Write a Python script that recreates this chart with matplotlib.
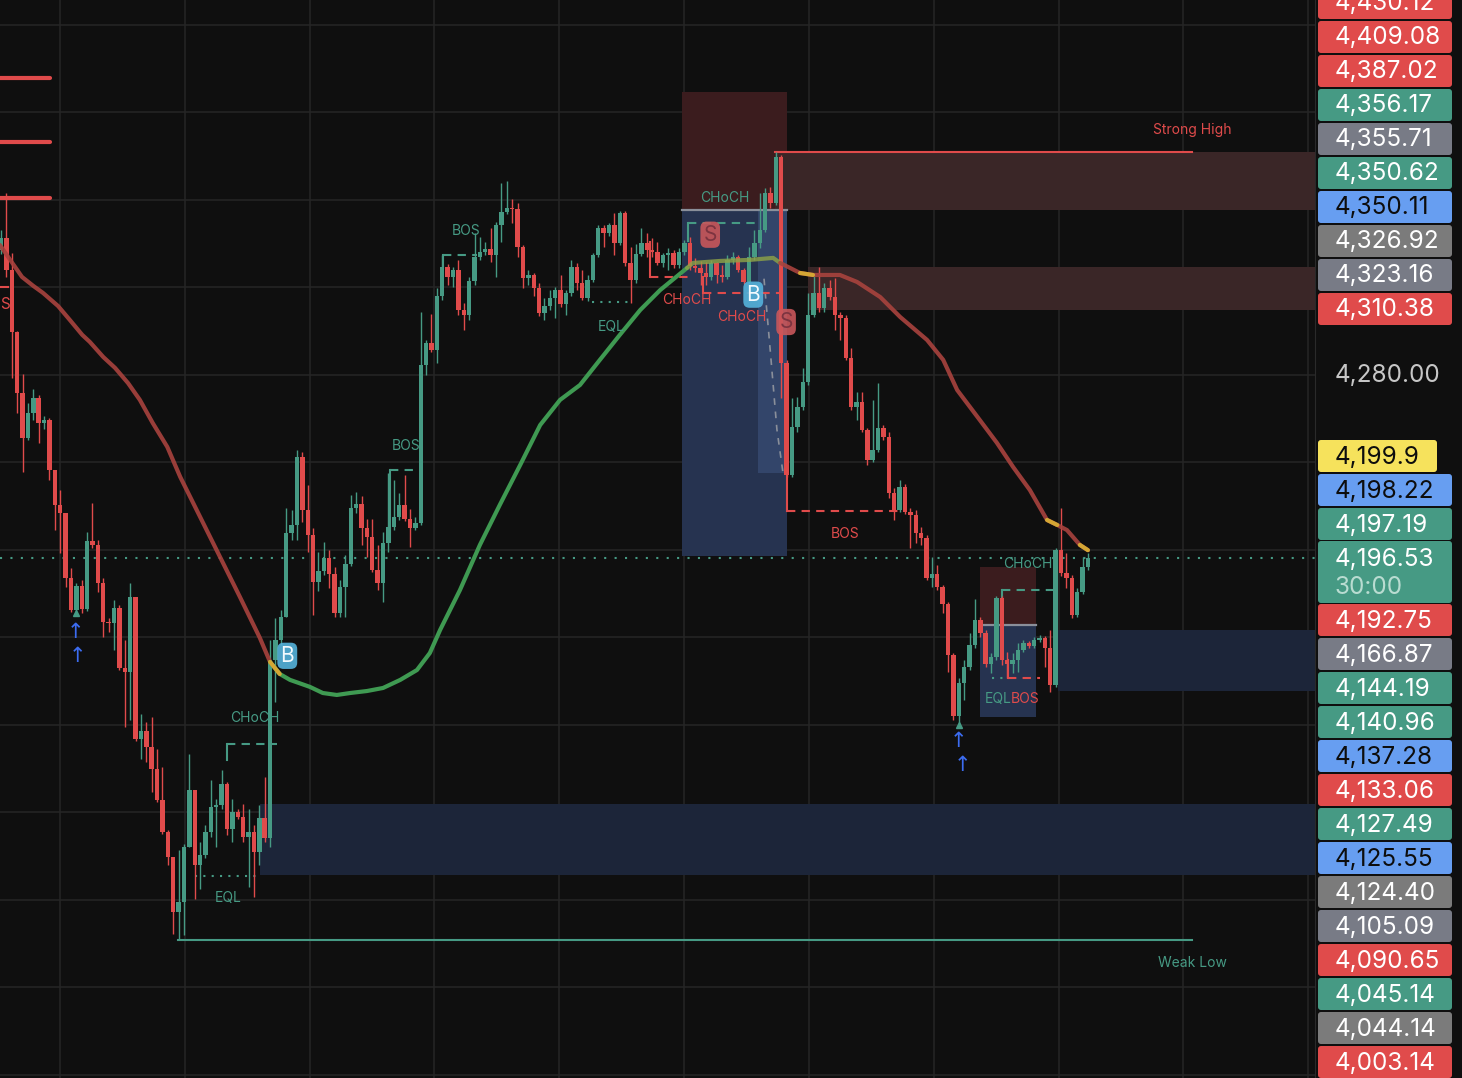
import numpy as np
import matplotlib.pyplot as plt
from matplotlib.patches import Rectangle, FancyBboxPatch

plt.rcParams['font.family'] = ['Inter', 'DejaVu Sans']

BG = '#0f0f0f'
GRID = '#262626'
UP = '#469a84'
DN = '#e04b4b'

# 30m candles, each bar opens at the previous close
first_open = 4337.1
close = [4342.6, 4328.0, 4299.6, 4271.8, 4251.2, 4262.6, 4269.5, 4258.0, 4259.4, 4236.6,
         4220.6, 4216.9, 4187.2, 4172.6, 4183.5, 4173.0, 4204.1, 4202.3, 4184.9, 4167.1,
         4166.6, 4173.5, 4146.1, 4144.2, 4178.5, 4113.6, 4117.3, 4110.0, 4100.0, 4085.8,
         4071.1, 4059.7, 4034.6, 4039.2, 4064.3, 4090.4, 4056.1, 4060.6, 4071.1, 4082.6,
         4083.5, 4093.1, 4072.5, 4080.3, 4078.0, 4068.9, 4071.1, 4062.0, 4077.6, 4068.4,
         4149.7, 4158.9, 4169.4, 4207.8, 4211.4, 4242.5, 4218.3, 4206.9, 4185.4, 4190.4,
         4196.3, 4189.0, 4171.2, 4183.1, 4193.6, 4219.2, 4221.0, 4210.1, 4205.9, 4190.9,
         4184.9, 4203.2, 4210.5, 4215.1, 4220.6, 4214.2, 4210.1, 4212.3, 4284.6, 4294.6,
         4291.4, 4316.1, 4329.4, 4324.8, 4328.0, 4309.7, 4307.4, 4323.0, 4333.9, 4336.2,
         4337.6, 4334.8, 4348.6, 4354.5, 4356.3, 4355.9, 4338.5, 4324.3, 4325.7, 4319.8,
         4308.4, 4311.5, 4315.2, 4318.8, 4312.4, 4317.5, 4329.4, 4322.0, 4315.2, 4323.4,
         4334.8, 4347.2, 4344.9, 4348.6, 4340.3, 4354.0, 4331.2, 4323.4, 4335.3, 4340.3,
         4337.1, 4336.2, 4331.2, 4334.8, 4335.8, 4330.3, 4336.2, 4340.3, 4329.8, 4328.9,
         4326.6, 4324.8, 4331.2, 4325.7, 4324.8, 4332.6, 4333.9, 4328.0, 4322.5, 4333.9,
         4340.3, 4346.3, 4363.2, 4358.6, 4379.7, 4285.5, 4234.3, 4256.2, 4265.4, 4276.8,
         4307.4, 4317.5, 4310.6, 4319.8, 4315.6, 4307.4, 4306.0, 4287.8, 4265.4, 4267.7,
         4254.8, 4241.1, 4245.7, 4255.8, 4251.7, 4226.0, 4218.3, 4228.8, 4217.4, 4216.0,
         4207.8, 4205.5, 4187.2, 4189.0, 4183.1, 4175.3, 4152.0, 4124.1, 4139.2, 4146.5,
         4156.6, 4168.0, 4162.1, 4147.9, 4151.1, 4178.1, 4149.7, 4147.9, 4149.7, 4154.3,
         4157.5, 4156.1, 4158.9, 4159.8, 4155.2, 4138.3, 4200.0, 4189.5, 4187.2, 4170.3,
         4180.8, 4192.2, 4196.5]
high = [4346.3, 4363.2, 4335.8, 4300.1, 4280.4, 4267.2, 4273.6, 4270.9, 4261.2, 4260.3,
        4236.6, 4227.4, 4216.9, 4191.8, 4184.9, 4186.3, 4208.2, 4221.5, 4204.6, 4187.2,
        4168.9, 4177.1, 4174.9, 4158.9, 4184.9, 4178.5, 4125.1, 4121.4, 4123.7, 4109.1,
        4100.8, 4072.1, 4059.7, 4062.9, 4065.7, 4106.8, 4090.4, 4066.6, 4074.3, 4094.9,
        4086.3, 4099.5, 4094.0, 4086.3, 4081.7, 4084.0, 4081.7, 4074.3, 4083.5, 4096.3,
        4158.9, 4168.9, 4172.6, 4219.2, 4218.3, 4245.7, 4244.8, 4229.7, 4210.1, 4199.1,
        4203.7, 4200.0, 4192.2, 4186.3, 4197.7, 4225.1, 4226.5, 4224.7, 4214.2, 4214.2,
        4202.3, 4208.2, 4235.2, 4232.0, 4226.0, 4234.3, 4218.7, 4215.1, 4308.8, 4296.0,
        4307.9, 4319.8, 4334.9, 4330.8, 4329.4, 4332.6, 4312.9, 4324.8, 4344.9, 4343.1,
        4340.8, 4347.2, 4350.0, 4367.8, 4368.7, 4360.4, 4358.6, 4339.4, 4328.0, 4326.6,
        4322.0, 4315.2, 4318.8, 4320.2, 4325.7, 4318.8, 4332.6, 4331.2, 4328.0, 4325.7,
        4335.8, 4348.6, 4348.6, 4349.5, 4354.0, 4355.0, 4355.0, 4338.5, 4339.9, 4347.2,
        4344.9, 4342.6, 4340.8, 4335.8, 4338.0, 4337.1, 4338.0, 4341.7, 4343.1, 4333.5,
        4332.1, 4331.6, 4332.6, 4331.6, 4330.3, 4334.8, 4336.2, 4334.8, 4328.9, 4338.5,
        4346.3, 4363.2, 4365.5, 4365.9, 4382.0, 4380.6, 4286.9, 4269.5, 4269.9, 4283.2,
        4317.5, 4326.6, 4329.4, 4322.0, 4323.4, 4324.3, 4308.8, 4307.4, 4292.3, 4272.2,
        4272.2, 4255.8, 4268.6, 4276.3, 4257.1, 4253.9, 4228.3, 4232.0, 4230.2, 4219.2,
        4218.3, 4210.5, 4206.9, 4196.8, 4193.1, 4184.0, 4176.2, 4152.9, 4141.5, 4149.7,
        4162.1, 4177.6, 4169.4, 4163.4, 4152.9, 4179.0, 4179.0, 4153.4, 4152.9, 4157.5,
        4158.9, 4158.4, 4160.2, 4161.1, 4160.7, 4163.4, 4200.9, 4219.2, 4198.6, 4188.6,
        4182.6, 4196.8, 4198.6]
low = [4335.3, 4324.8, 4278.6, 4262.6, 4235.7, 4250.3, 4259.4, 4248.9, 4255.3, 4232.0,
       4209.1, 4198.6, 4183.1, 4171.7, 4171.7, 4171.2, 4172.1, 4200.9, 4180.8, 4160.2,
       4162.5, 4154.3, 4145.1, 4119.1, 4122.3, 4112.7, 4104.5, 4103.2, 4089.4, 4084.9,
       4070.2, 4056.1, 4024.5, 4021.7, 4024.1, 4064.3, 4040.5, 4045.1, 4059.3, 4068.9,
       4064.3, 4081.7, 4069.8, 4066.6, 4077.1, 4066.6, 4046.0, 4041.4, 4056.1, 4066.6,
       4064.3, 4130.5, 4156.6, 4169.4, 4204.6, 4204.6, 4212.8, 4199.1, 4170.3, 4181.3,
       4188.6, 4182.6, 4169.4, 4169.4, 4169.4, 4192.7, 4216.9, 4202.3, 4196.8, 4190.0,
       4181.7, 4176.2, 4199.1, 4209.1, 4213.7, 4213.3, 4201.4, 4209.1, 4211.4, 4280.0,
       4290.5, 4285.5, 4314.3, 4321.1, 4320.2, 4307.4, 4300.6, 4305.1, 4321.1, 4332.6,
       4334.8, 4331.6, 4324.8, 4340.8, 4353.6, 4349.5, 4333.9, 4319.8, 4321.1, 4316.1,
       4307.0, 4305.1, 4309.7, 4306.0, 4311.1, 4307.4, 4316.1, 4318.8, 4314.3, 4313.8,
       4322.5, 4333.9, 4338.5, 4343.5, 4334.8, 4339.4, 4329.8, 4312.9, 4322.0, 4334.4,
       4333.9, 4333.9, 4330.3, 4329.4, 4328.0, 4328.9, 4328.9, 4334.8, 4328.0, 4327.1,
       4321.1, 4321.1, 4323.4, 4322.0, 4322.5, 4323.9, 4330.7, 4327.1, 4321.6, 4321.6,
       4332.6, 4338.0, 4345.4, 4356.3, 4357.7, 4269.5, 4233.4, 4233.4, 4253.9, 4264.0,
       4275.4, 4306.5, 4308.8, 4308.8, 4314.3, 4300.6, 4296.0, 4286.9, 4264.0, 4259.4,
       4253.9, 4238.9, 4240.2, 4244.8, 4250.3, 4223.8, 4213.7, 4217.4, 4216.5, 4200.9,
       4203.2, 4202.3, 4186.3, 4183.1, 4181.7, 4171.2, 4144.2, 4122.3, 4120.5, 4131.4,
       4145.1, 4155.2, 4160.2, 4146.5, 4143.8, 4149.7, 4147.4, 4141.5, 4143.8, 4144.2,
       4153.4, 4155.2, 4155.2, 4158.0, 4146.5, 4135.1, 4137.4, 4188.1, 4182.6, 4168.9,
       4169.4, 4179.9, 4190.9]
opens = [first_open] + close[:-1]
last_price = 4196.53

# moving average, sampled along the curve (bar index, price), split by colour
ema_bear1_x = [-0.2, 1.7, 3.9, 6.0, 7.8, 10.6, 12.8, 15.1, 16.5, 19.0, 21.2, 23.6, 25.8,
               28.2, 30.9, 33.3, 37.0, 40.7, 44.4, 48.1, 50.0]
ema_bear1_y = [4339.4, 4332.6, 4324.8, 4320.7, 4317.5, 4311.5, 4305.1, 4298.3, 4295.1,
               4288.2, 4283.2, 4276.3, 4268.6, 4258.0, 4247.1, 4233.4, 4215.1, 4196.8,
               4178.5, 4159.8, 4148.8]
ema_bull_x = [50.0, 51.8, 53.7, 57.4, 59.8, 62.4, 64.9, 68.0, 71.0, 74.2, 77.3, 79.7, 81.6,
              85.3, 89.0, 92.7, 96.5, 100.2, 103.9, 107.6, 111.3, 115.0, 118.8, 122.5, 127.5]
ema_bull_y = [4148.8, 4143.3, 4140.6, 4137.4, 4134.6, 4133.7, 4134.6, 4135.5, 4136.9, 4140.6,
              4145.1, 4152.9, 4163.4, 4181.7, 4202.3, 4220.6, 4238.9, 4257.1, 4268.6, 4275.4,
              4286.9, 4298.3, 4309.7, 4318.8, 4328.9]
ema_flat_x = [127.5, 128.6, 133.6, 139.2, 143.5, 144.8]
ema_flat_y = [4328.9, 4331.2, 4332.1, 4332.6, 4333.5, 4331.2]
ema_bear2_x = [144.8, 148.5, 150.9, 155.9, 159.1, 163.4, 167.1, 172.1, 175.1, 177.7, 181.9,
               185.1, 188.1, 191.2, 194.4, 196.3, 198.1, 200.5, 202.0]
ema_bear2_y = [4331.2, 4326.6, 4325.7, 4325.7, 4322.5, 4315.6, 4306.5, 4296.0, 4286.9, 4273.1,
               4259.4, 4248.9, 4237.9, 4227.4, 4213.7, 4211.4, 4209.1, 4202.3, 4199.9]
ema_touch = [(50.0, 4148.8, 51.8, 4143.3), (148.5, 4326.6, 150.9, 4325.7),
             (194.4, 4213.7, 196.3, 4211.4), (200.5, 4202.3, 202.0, 4199.9)]

# zones: x0, x1, low, high, colour
zones = [
    (126.6, 146.1, 4355.4, 4409.4, '#3b1c1e'),
    (126.6, 146.1, 4197.3, 4355.4, '#263350'),
    (140.7, 146.1, 4235.2, 4355.4, '#33456a'),
    (143.8, 244.5, 4355.4, 4382.0, '#3a2627'),
    (150.0, 244.5, 4309.7, 4329.4, '#3a2627'),
    (48.1, 244.5, 4051.4, 4083.9, '#1c2539'),
    (196.4, 244.5, 4135.5, 4163.4, '#1c2539'),
    (181.9, 192.3, 4165.7, 4192.2, '#3b1c1e'),
    (181.9, 192.3, 4123.6, 4165.7, '#263350'),
]
zone_edges = [(126.6, 146.1, 4355.4), (181.9, 192.3, 4165.7)]

strong_high = 4382.0
weak_low = 4021.7

# structure breaks: x0, x1, level, colour, style, label, label_x, label_y
structure = [
    (82.1, 88.5, 4334.8, UP, 'dash', 'BOS', 86.4, 4345.8),
    (72.3, 78.1, 4236.6, UP, 'dash', 'BOS', 75.3, 4247.6),
    (42.0, 51.3, 4111.3, UP, 'dash', 'CHoCH', 47.2, 4123.0),
    (36.1, 48.1, 4051.0, UP, 'dot', 'EQL', 42.2, 4040.9),
    (109.8, 117.5, 4313.4, UP, 'dot', 'EQL', 113.4, 4301.9),
    (127.7, 141.1, 4349.5, UP, 'dash', 'CHoCH', 134.5, 4360.9),
    (120.6, 128.6, 4324.8, DN, 'dash', 'CHoCH', 127.5, 4314.3),
    (130.5, 144.8, 4317.5, DN, 'dash', 'CHoCH', 137.7, 4306.5),
    (146.1, 167.1, 4217.8, DN, 'dash', 'BOS', 156.8, 4207.3),
    (186.0, 195.9, 4181.7, UP, 'dash', 'CHoCH', 190.9, 4193.6),
    (184.2, 187.1, 4141.5, UP, 'dot', 'EQL', 185.4, 4131.9),
    (187.1, 193.1, 4141.5, DN, 'dash', 'BOS', 190.3, 4131.9),
]
ticks_down = [(82.1, 4334.8, 4329.0), (72.3, 4236.6, 4205.0), (42.0, 4111.3, 4104.0),
              (127.7, 4349.5, 4341.0), (120.6, 4324.8, 4340.8), (130.5, 4317.5, 4324.8),
              (146.1, 4217.8, 4234.3), (186.0, 4181.7, 4177.0), (187.1, 4141.5, 4149.7)]
red_ticks = (120.6, 130.5, 146.1, 187.1)

# signal tags: x, price, letter, kind
tags = [(131.8, 4344.1, 'S', 'sell'), (139.8, 4316.7, 'B', 'buy'),
        (145.9, 4304.2, 'S', 'sell'), (53.2, 4151.6, 'B', 'buy')]
arrows = [(13.8, 4162.5), (14.3, 4151.5), (178.0, 4112.8), (178.6, 4101.8)]
swing_dots = [(13.9, 4171.1), (178.0, 4120.0)]
old_levels = [4415.8, 4386.5, 4360.9]

# price scale tags
scale_top = ['4,430.12', '4,409.08', '4,387.02', '4,356.17', '4,355.71', '4,350.62',
             '4,350.11', '4,326.92', '4,323.16', '4,310.38']
scale_top_col = ['red', 'red', 'red', 'green', 'slate', 'green', 'blue', 'gray', 'slate', 'red']
scale_bot = ['4,192.75', '4,166.87', '4,144.19', '4,140.96', '4,137.28', '4,133.06',
             '4,127.49', '4,125.55', '4,124.40', '4,105.09', '4,090.65', '4,045.14',
             '4,044.14', '4,003.14']
scale_bot_col = ['red', 'slate', 'green', 'green', 'blue', 'red', 'green', 'blue', 'gray',
                 'slate', 'red', 'green', 'gray', 'red']
scale_mid = [('4,199.9', 'yellow'), ('4,198.22', 'blue'), ('4,197.19', 'green')]
palette = {'red': '#e04b4b', 'green': '#469a84', 'slate': '#787b86', 'gray': '#7b7b7b',
           'blue': '#679ef1', 'yellow': '#f6e25c'}
dark_text = {'blue', 'yellow'}

fig = plt.figure(figsize=(14.62, 10.78), dpi=100, facecolor=BG)
ax = fig.add_axes([0, 0, 1315 / 1462, 1])
ax.set_facecolor(BG)
ax.set_xlim(-0.19, 244.2)
ax.set_ylim(3958.6, 4451.4)
ax.set_yticks(np.arange(3960, 4441, 40))
ax.set_xticks(np.arange(10.96, 244, 23.2))
ax.grid(color=GRID, lw=1.1)
ax.set_axisbelow(True)
ax.tick_params(length=0, labelleft=False, labelbottom=False)
for s in ax.spines.values():
    s.set_visible(False)

for x0, x1, lo, hi, c in zones:
    ax.add_patch(Rectangle((x0, lo), x1 - x0, hi - lo, color=c, lw=0, zorder=1))
for x0, x1, y in zone_edges:
    ax.plot([x0, x1], [y, y], color='#8a8f9a', lw=1.6, zorder=1.5)

# dashed guide inside the sell zone
ax.plot([141.8, 143.0, 144.2, 145.4], [4324.0, 4290.0, 4255.0, 4234.0],
        color='#8a8f9a', lw=1.2, ls=(0, (4, 4)), zorder=1.6)

ax.plot([143.8, 221.3], [strong_high] * 2, color=DN, lw=1.5, zorder=2)
ax.text(221.3, strong_high + 10, 'Strong High', color=DN, fontsize=10, ha='center', va='center')
ax.plot([32.9, 221.3], [weak_low] * 2, color=UP, lw=1.5, zorder=2)
ax.text(221.5, weak_low - 10.5, 'Weak Low', color=UP, fontsize=10, ha='center', va='center')
ax.axhline(last_price, color=UP, lw=1.5, ls=(0, (1, 4)), zorder=2)

for y in old_levels:
    ax.plot([-0.2, 9.1], [y, y], color=DN, lw=3, zorder=2, solid_capstyle='round')
ax.plot([-0.2, 1.3], [4320.2, 4320.2], color=DN, lw=1.5, zorder=2)
ax.text(0.75, 4312.0, 'S', color=DN, fontsize=11, ha='center', va='center', zorder=5)

for x0, x1, y, c, st, lab, lx, ly in structure:
    ls = (0, (4, 3)) if st == 'dash' else (0, (1, 3))
    ax.plot([x0, x1], [y, y], color=c, lw=1.5, ls=ls, zorder=2)
    ax.text(lx, ly, lab, color=c, fontsize=10, ha='center', va='center', zorder=5)
for x, y0, y1 in ticks_down:
    col = DN if x in red_ticks else UP
    ax.plot([x, x], [y0, y1], color=col, lw=1.5, zorder=2)

# candles
xi = np.arange(len(close))
o = np.array(opens)
c = np.array(close)
cols = np.where(c >= o, UP, DN)
ax.vlines(xi, low, high, colors=cols, lw=1.0, zorder=3)
ax.bar(xi, np.maximum(np.abs(c - o), 0.6), 0.82, np.minimum(o, c), color=cols, lw=0, zorder=3)

# moving average
ax.plot(ema_bear1_x, ema_bear1_y, color='#a9433e', lw=3, alpha=0.9, zorder=4, solid_capstyle='round')
ax.plot(ema_bull_x, ema_bull_y, color='#3f9a52', lw=3, zorder=4, solid_capstyle='round')
ax.plot(ema_flat_x, ema_flat_y, color='#8fa446', lw=3, alpha=0.8, zorder=4, solid_capstyle='round')
ax.plot(ema_bear2_x, ema_bear2_y, color='#a9433e', lw=3, alpha=0.9, zorder=4, solid_capstyle='round')
for x0, y0, x1, y1 in ema_touch:
    ax.plot([x0, x1], [y0, y1], color='#d4a634', lw=3, zorder=4.1, solid_capstyle='round')

for x, y, letter, kind in tags:
    fc, tc = ('#c9575b', '#7c3440') if kind == 'sell' else ('#55b3dc', '#f2fafe')
    ax.text(x, y, letter, color=tc, fontsize=15, ha='center', va='center', zorder=6,
            bbox=dict(boxstyle='round,pad=0.15,rounding_size=0.3', fc=fc, ec='none', alpha=0.9))
for x, y in arrows:
    ax.text(x, y, '\u2191', color='#3c6cf0', fontsize=15, ha='center', va='center',
            family='DejaVu Sans', zorder=6)
for x, y in swing_dots:
    ax.plot(x, y, marker='^', color=UP, ms=4, zorder=6)

# price scale
sx = fig.add_axes([1315 / 1462, 0, 147 / 1462, 1])
sx.set_xlim(0, 147)
sx.set_ylim(1078, 0)
sx.set_facecolor(BG)
sx.set_xticks([])
sx.set_yticks([])
for k, s in sx.spines.items():
    s.set_visible(k == 'left')
sx.spines['left'].set_color('#2a2a2a')


def tag(yc, txt, key, h=33, w=134, sub=None):
    sx.add_patch(FancyBboxPatch((3, yc - h / 2 + 0.5), w, h - 1,
                                boxstyle='round,pad=0,rounding_size=3',
                                fc=palette[key], ec='none'))
    tc = '#0d0d0d' if key in dark_text else '#ffffff'
    if sub is None:
        sx.text(20, yc + 1, txt, color=tc, fontsize=17.5, va='center', ha='left')
    else:
        sx.text(20, yc - 13, txt, color=tc, fontsize=17.5, va='center', ha='left')
        sx.text(20, yc + 15, sub, color='#b9dcd1', fontsize=17.5, va='center', ha='left')


# first tag sits partly above the top edge, as in the source
for k, (t, cname) in enumerate(zip(scale_top, scale_top_col)):
    tag(3 + 34 * k, t, cname)
sx.text(20, 376, '4,280.00', color='#c7c7c7', fontsize=17.5, va='center', ha='left')
for k, (t, cname) in enumerate(scale_mid):
    tag(456 + 34 * k, t, cname, w=119 if cname == 'yellow' else 134)
tag(572, '4,196.53', 'green', h=63, sub='30:00')
for k, (t, cname) in enumerate(zip(scale_bot, scale_bot_col)):
    tag(620 + 34 * k, t, cname)

fig.savefig('out.png', dpi=100, facecolor=BG)
